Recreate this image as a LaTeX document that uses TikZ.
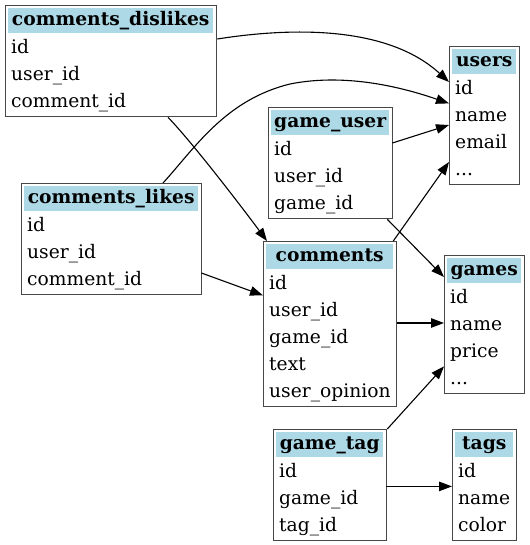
\documentclass[tikz,border=0pt]{standalone}
\usepackage{fontspec}
\setmainfont{DejaVu Serif}
\usetikzlibrary{arrows.meta,calc}
\definecolor{hdrblue}{HTML}{ADD8E6}
\newcommand\threedots{...}
\tikzset{
  tabbox/.style={draw=black!72, line width=1.3pt, inner sep=0pt, fill=white},
  hdr/.style={fill=hdrblue, inner xsep=0pt, inner ysep=0pt, text height=17pt, text depth=8pt,
    align=center, font=\fontsize{18.67pt}{22pt}\selectfont\bfseries},
  fld/.style={inner xsep=6pt, inner ysep=0pt, text height=18pt, text depth=9pt,
    align=left, font=\fontsize{18.67pt}{22pt}\selectfont},
  rel/.style={line width=1.1pt, -{Triangle[length=13pt,width=9.5pt]}},
}
% #1 name, #2 x, #3 y, #4 width, #5 rows count, #6 header, #7 rows
\newcommand\dbtab[7]{%
  \pgfmathsetmacro\tabh{30+27*#5}%
  \pgfmathsetmacro\hdw{#4-6}%
  \pgfmathsetmacro\fdw{#4-12}%
  \node[tabbox, minimum width=#4pt, minimum height=\tabh pt, anchor=north west] (#1) at (#2,#3) {};
  \node[hdr, text width=\hdw pt, anchor=north west] (#1-h) at (#2+3,#3+3) {#6};
  \foreach \f [count=\i] in {#7} {
    \node[fld, text width=\fdw pt, anchor=north west] (#1-\i) at (#2,#3+3+27*\i) {\f};
  }%
}
\begin{document}
\begin{tikzpicture}[x=1pt,y=-1pt]
\useasboundingbox (0,0) rectangle (529,545);
\dbtab{cd}{5}{5}{211}{3}{comments\_dislikes}{id,user\_id,comment\_id}
\dbtab{users}{449}{46}{70}{4}{users}{id,name,email,\threedots}
\dbtab{gu}{268}{107}{124}{3}{game\_user}{id,user\_id,game\_id}
\dbtab{cl}{21}{183}{180}{3}{comments\_likes}{id,user\_id,comment\_id}
\dbtab{comments}{263}{241}{133}{5}{comments}{id,user\_id,game\_id,text,user\_opinion}
\dbtab{games}{444}{255}{80}{4}{games}{id,name,price,\threedots}
\dbtab{gt}{273}{429}{113}{3}{game\_tag}{id,game\_id,tag\_id}
\dbtab{tags}{452}{429}{64}{3}{tags}{id,name,color}

% connectors
\draw[rel] ($(cd.north east)+(0,34)$) .. controls (300,26) and (390,28) .. ($(users-1.north west)+(0,6)$);
\draw[rel] ($(cl.north west)+(142,0)$) .. controls (195,148) and (225,100) .. (290,84)
  .. controls (350,72) and (410,90) .. (users-1.south west);
\draw[rel] ($(gu-1.north east)+(0,6)$) -- ($(users-2.north west)+(0,22)$);
\draw[rel] ($(comments.north east)+(-4,0)$) -- ($(users-4.north west)+(0,5)$);
\draw[rel] ($(gu.south east)+(-6,0)$) -- ($(games.north west)+(0,22)$);
\draw[rel] ($(cd.south west)+(163,0)$) .. controls (190,140) and (235,198) .. ($(comments.north west)+(4,0)$);
\draw[rel] ($(cl-3.north east)+(0,6)$) -- ($(comments-1.south west)+(0,-3)$);
\coordinate (gname) at ($(games-2.north west)+(0,11)$);
\draw[rel] (comments.east |- gname) -- (gname);
\draw[rel] (gt.north east) -- (games-3.south west);
\draw[rel] (gt-1.south east) -- (tags-1.south west);
\end{tikzpicture}
\end{document}
